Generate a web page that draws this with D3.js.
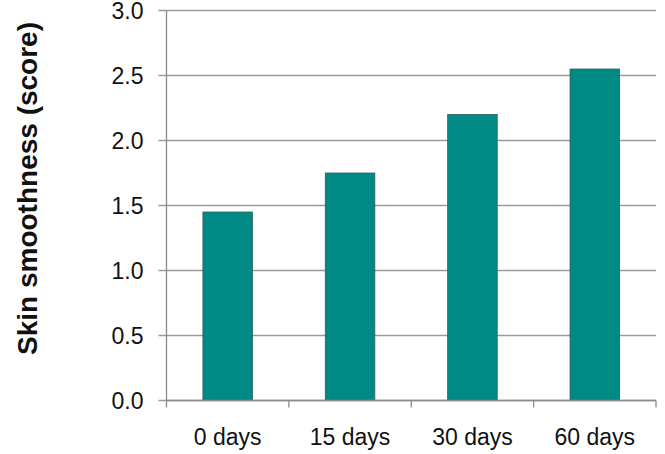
<!DOCTYPE html>
<html>
<head>
<meta charset="utf-8">
<script src="https://cdn.jsdelivr.net/npm/d3@7"></script>
<style>
  html, body { margin: 0; padding: 0; background: #fff; }
  svg { display: block; font-family: "Liberation Sans", Arial, Helvetica, sans-serif; }
</style>
</head>
<body>
<svg id="chart" width="665" height="454"></svg>
<script>
// Skin smoothness score over time
const categories = ["0 days", "15 days", "30 days", "60 days"];
const scores = [1.45, 1.75, 2.2, 2.55];
const yTicks = [0, 0.5, 1.0, 1.5, 2.0, 2.5, 3.0];
const yLabel = "Skin smoothness (score)";

const svg = d3.select("#chart");
const margin = { left: 166.5, right: 9, top: 10.5, bottom: 53.5 };
const W = 665, H = 454;

const x = d3.scaleBand()
  .domain(categories)
  .range([margin.left, W - margin.right])
  .padding(0);

const y = d3.scaleLinear()
  .domain([0, 3])
  .range([H - margin.bottom, margin.top]);

// horizontal gridlines with small left ticks
svg.append("g")
  .selectAll("line")
  .data(yTicks)
  .join("line")
  .attr("x1", margin.left - 8)
  .attr("x2", W - margin.right)
  .attr("y1", d => y(d))
  .attr("y2", d => y(d))
  .attr("stroke", "#9a9a9a")
  .attr("stroke-width", 1.3);

// y tick labels
svg.append("g")
  .selectAll("text")
  .data(yTicks)
  .join("text")
  .attr("x", 143.5)
  .attr("y", d => y(d))
  .attr("dy", "0.36em")
  .attr("text-anchor", "end")
  .attr("font-size", 23)
  .attr("fill", "#111")
  .text(d => d3.format(".1f")(d));

// bars
const barFrac = 0.405;
svg.append("g")
  .selectAll("rect")
  .data(categories.map((c, i) => ({ c, v: scores[i] })))
  .join("rect")
  .attr("x", d => x(d.c) + x.bandwidth() * (1 - barFrac) / 2)
  .attr("width", x.bandwidth() * barFrac)
  .attr("y", d => y(d.v))
  .attr("height", d => y(0) - y(d.v))
  .attr("fill", "#008a86")
  .attr("stroke", "#2d5f5d")
  .attr("stroke-width", 0.8);

// y axis line
svg.append("line")
  .attr("x1", margin.left).attr("x2", margin.left)
  .attr("y1", y(3)).attr("y2", y(0) + 7)
  .attr("stroke", "#8a8a8a")
  .attr("stroke-width", 1.3);

// x axis baseline and category separators
svg.append("line")
  .attr("x1", margin.left).attr("x2", W - margin.right)
  .attr("y1", y(0)).attr("y2", y(0))
  .attr("stroke", "#8a8a8a")
  .attr("stroke-width", 1.3);

const xBounds = categories.map(c => x(c) + x.bandwidth());
svg.append("g")
  .selectAll("line")
  .data(xBounds)
  .join("line")
  .attr("x1", d => d).attr("x2", d => d)
  .attr("y1", y(0)).attr("y2", y(0) + 7)
  .attr("stroke", "#8a8a8a")
  .attr("stroke-width", 1.3);

// category labels
svg.append("g")
  .selectAll("text")
  .data(categories)
  .join("text")
  .attr("x", d => x(d) + x.bandwidth() / 2)
  .attr("y", 445)
  .attr("text-anchor", "middle")
  .attr("font-size", 23)
  .attr("fill", "#111")
  .text(d => d);

// y axis title
svg.append("text")
  .attr("transform", "translate(37,188.5) rotate(-90)")
  .attr("text-anchor", "middle")
  .attr("font-size", 28)
  .attr("font-weight", "bold")
  .attr("fill", "#111")
  .text(yLabel);
</script>
</body>
</html>
